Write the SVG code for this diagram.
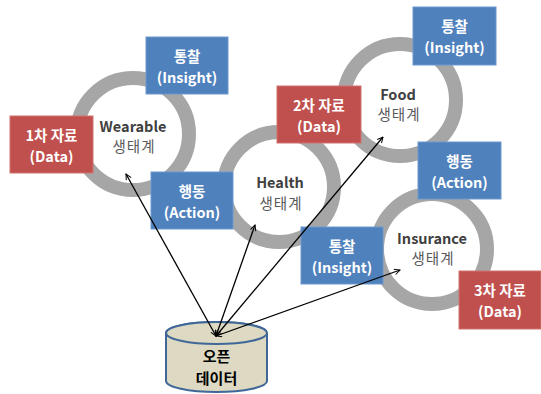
<svg xmlns="http://www.w3.org/2000/svg" width="541" height="394" viewBox="0 0 541 394">
  <defs>
    <marker id="arrow" viewBox="0 0 10 10" refX="9" refY="5" markerWidth="7" markerHeight="7" orient="auto-start-reverse" markerUnits="userSpaceOnUse">
      <path d="M1,1 L9,5 L1,9" fill="none" stroke="#000" stroke-width="1.4"/>
    </marker>
    <style>
      .ring { fill: #fff; stroke: #a6a6a6; stroke-width: 14; }
      .blue { fill: #4f81bd; stroke: #6f98cc; stroke-width: 1; }
      .red { fill: #c0504d; stroke: #d27371; stroke-width: 1; }
      .bt { font-family: "Noto Sans CJK KR", "Liberation Sans", sans-serif; font-weight: bold; font-size: 14.5px; fill: #fff; text-anchor: middle; }
      .name { font-family: "Noto Sans CJK KR", "Liberation Sans", sans-serif; font-weight: bold; font-size: 14.5px; fill: #404040; text-anchor: middle; }
      .eco { font-family: "Noto Sans CJK KR", "Liberation Sans", sans-serif; font-size: 14.5px; fill: #595959; text-anchor: middle; letter-spacing: 1px; }
      .link { fill: none; stroke: #000; stroke-width: 1.3; marker-start: url(#arrow); marker-end: url(#arrow); }
      .db { fill: #ddd9c3; stroke: #3f6797; stroke-width: 2; }
      .dbt { font-family: "Noto Sans CJK KR", "Liberation Sans", sans-serif; font-weight: bold; font-size: 15px; fill: #000; text-anchor: middle; }
    </style>
  </defs>

  <!-- ecosystem rings -->
  <g id="wearable">
    <circle class="ring" cx="133" cy="134" r="56"/>
    <text class="name" x="133" y="132">Wearable</text>
    <text class="eco" x="134" y="152">생태계</text>
  </g>
  <g id="health">
    <circle class="ring" cx="279" cy="187" r="55"/>
    <text class="name" x="280" y="188">Health</text>
    <text class="eco" x="281" y="209">생태계</text>
  </g>
  <g id="food">
    <circle class="ring" cx="400" cy="100" r="56"/>
    <text class="name" x="398" y="100">Food</text>
    <text class="eco" x="399" y="120">생태계</text>
  </g>
  <g id="insurance">
    <circle class="ring" cx="432" cy="249" r="55"/>
    <text class="name" x="432" y="244">Insurance</text>
    <text class="eco" x="433" y="264">생태계</text>
  </g>

  <!-- labels around rings -->
  <g id="wearable-insight">
    <rect class="blue" x="146" y="37" width="82" height="57"/>
    <text class="bt" x="187" y="62">통찰</text>
    <text class="bt" x="187" y="83">(Insight)</text>
  </g>
  <g id="data-1">
    <rect class="red" x="10" y="116" width="83" height="57"/>
    <text class="bt" x="51.5" y="141">1차 자료</text>
    <text class="bt" x="51.5" y="162">(Data)</text>
  </g>
  <g id="wearable-action">
    <rect class="blue" x="151" y="172" width="82" height="57"/>
    <text class="bt" x="192" y="197">행동</text>
    <text class="bt" x="192" y="218">(Action)</text>
  </g>
  <g id="data-2">
    <rect class="red" x="277" y="86" width="84" height="57"/>
    <text class="bt" x="319" y="111">2차 자료</text>
    <text class="bt" x="319" y="132">(Data)</text>
  </g>
  <g id="food-insight">
    <rect class="blue" x="413" y="7" width="83" height="58"/>
    <text class="bt" x="454.5" y="32">통찰</text>
    <text class="bt" x="454.5" y="53">(Insight)</text>
  </g>
  <g id="food-action">
    <rect class="blue" x="418" y="142" width="83" height="57"/>
    <text class="bt" x="459.5" y="167">행동</text>
    <text class="bt" x="459.5" y="188">(Action)</text>
  </g>
  <g id="insurance-insight">
    <rect class="blue" x="301" y="227" width="82" height="57"/>
    <text class="bt" x="342" y="252">통찰</text>
    <text class="bt" x="342" y="273">(Insight)</text>
  </g>
  <g id="data-3">
    <rect class="red" x="459" y="271" width="82" height="58"/>
    <text class="bt" x="500" y="296">3차 자료</text>
    <text class="bt" x="500" y="317">(Data)</text>
  </g>

  <!-- open data store -->
  <g id="open-data">
    <path class="db" d="M166,333 L166,381 A50.5,11 0 0 0 267,381 L267,333 A50.5,11 0 0 0 166,333 Z"/>
    <ellipse class="db" cx="216.5" cy="333" rx="50.5" ry="11"/>
    <text class="dbt" x="216.5" y="362">오픈</text>
    <text class="dbt" x="216.5" y="384">데이터</text>
  </g>

  <!-- connectors -->
  <g id="connectors">
    <line class="link" x1="216" y1="336" x2="126" y2="174"/>
    <line class="link" x1="216" y1="336" x2="255" y2="225"/>
    <line class="link" x1="216" y1="336" x2="383" y2="137"/>
    <line class="link" x1="216" y1="336" x2="400" y2="270"/>
  </g>
</svg>
